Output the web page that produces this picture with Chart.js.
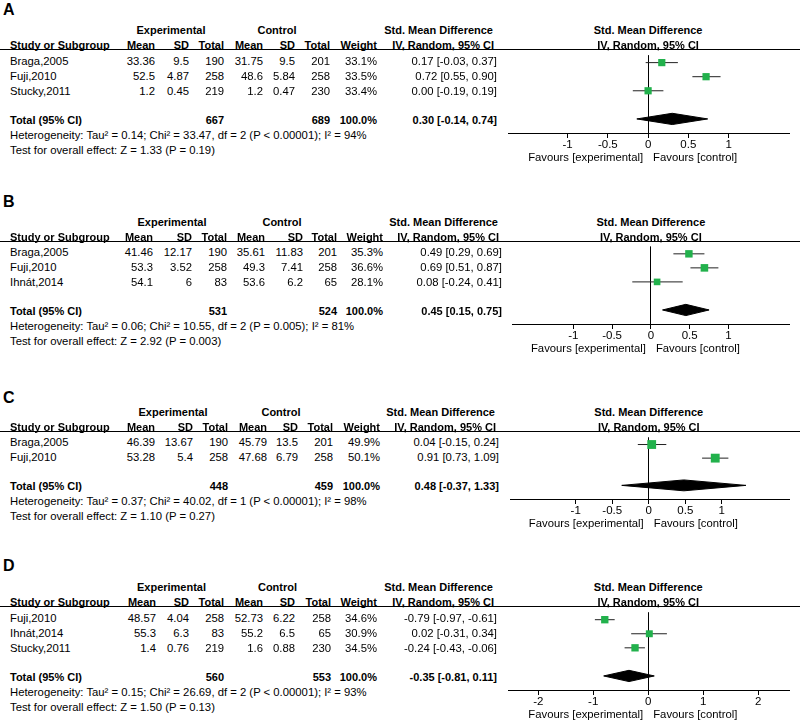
<!DOCTYPE html>
<html><head><meta charset="utf-8">
<script src="https://cdn.jsdelivr.net/npm/chart.js@4/dist/chart.umd.min.js"></script>
<style>
body{margin:0;background:#fff;}
#page{position:relative;width:800px;height:726px;overflow:hidden;font-family:"Liberation Sans",Arial,sans-serif;color:#000;}
.t{position:absolute;white-space:nowrap;font-size:11.3px;line-height:14px;height:14px;}
.b{font-weight:bold;font-size:11px;}
.L{font-weight:bold;font-size:16px;line-height:18px;height:18px;}
.hl{position:absolute;left:0;width:800px;height:0;border-top:1px solid #000;}
canvas{position:absolute;}
</style></head><body><div id="page"></div>
<script>
// ---------------- DATA ----------------
const panelLabels = ['A','B','C','D'];
const studies = [
  ['Braga,2005','Fuji,2010','Stucky,2011'],
  ['Braga,2005','Fuji,2010','Ihnát,2014'],
  ['Braga,2005','Fuji,2010'],
  ['Fuji,2010','Ihnát,2014','Stucky,2011']
];
const expMean = [[33.36,52.5,1.2],[41.46,53.3,54.1],[46.39,53.28],[48.57,55.3,1.4]];
const expSD   = [[9.5,4.87,0.45],[12.17,3.52,6],[13.67,5.4],[4.04,6.3,0.76]];
const expN    = [[190,258,219],[190,258,83],[190,258],[258,83,219]];
const ctlMean = [[31.75,48.6,1.2],[35.61,49.3,53.6],[45.79,47.68],[52.73,55.2,1.6]];
const ctlSD   = [[9.5,5.84,0.47],[11.83,7.41,6.2],[13.5,6.79],[6.22,6.5,0.88]];
const ctlN    = [[201,258,230],[201,258,65],[201,258],[258,65,230]];
const weight  = [[33.1,33.5,33.4],[35.3,36.6,28.1],[49.9,50.1],[34.6,30.9,34.5]];
const smd     = [[0.17,0.72,0.00],[0.49,0.69,0.08],[0.04,0.91],[-0.79,0.02,-0.24]];
const ciLow   = [[-0.03,0.55,-0.19],[0.29,0.51,-0.24],[-0.15,0.73],[-0.97,-0.31,-0.43]];
const ciHigh  = [[0.37,0.90,0.19],[0.69,0.87,0.41],[0.24,1.09],[-0.61,0.34,-0.06]];
const totalExpN   = [667,531,448,560];
const totalCtlN   = [689,524,459,553];
const totalWeight = [100.0,100.0,100.0,100.0];
const pooled     = [0.30,0.45,0.48,-0.35];
const pooledLow  = [-0.14,0.15,-0.37,-0.81];
const pooledHigh = [0.74,0.75,1.33,0.11];
const tau2  = [0.14,0.06,0.37,0.15];
const chi2  = [33.47,10.55,40.02,26.69];
const hetDf = [2,2,1,2];
const hetP  = ['< 0.00001','= 0.005','< 0.00001','< 0.00001'];
const i2    = [94,81,98,93];
const zValue = [1.33,2.92,1.10,1.50];
const zP     = ['0.19','0.003','0.27','0.13'];
const tickValues = [[-1,-0.5,0,0.5,1],[-1,-0.5,0,0.5,1],[-1,-0.5,0,0.5,1],[-2,-1,0,1,2]];
const axisMin = [-1.74,-1.79,-1.9,-2.55];
const axisMax = [1.75,1.78,1.92,2.56];

// ---------------- LAYOUT ----------------
const headerY = [49.5, 241, 431, 606.7];
const letterY = [10, 202, 397.5, 566];
const colRight = [
  [155,189,224,263,295,330,377,497],
  [153,192,227,265,303,337,383,502],
  [155,193,228,267,298,333,380,499],
  [156,189,224,263,295,331,377,497]
];
const expCenter = [171,172,173,171.5];
const ctlCenter = [277,282,281,277.5];
const plotLeft = [508,512,510,508];
const plotRight = 789;
const canvasLeft = 500, canvasW = 300;
const GREEN = '#22b14c';
const FONT = '"Liberation Sans", Arial, sans-serif';

const page = document.getElementById('page');
function txt(s, x, y, align, cls) {
  const d = document.createElement('div');
  d.className = 't' + (cls ? ' ' + cls : '');
  d.textContent = s;
  const h = cls === 'L' ? 9 : 7;
  d.style.top = (y - h) + 'px';
  d.style.left = x + 'px';
  if (align === 'r') d.style.transform = 'translateX(-100%)';
  else if (align === 'c') d.style.transform = 'translateX(-50%)';
  page.appendChild(d);
}
const f2 = v => v.toFixed(2);
const ciStr = (e, l, h) => `${f2(e)} [${f2(l)}, ${f2(h)}]`;

panelLabels.forEach((lab, p) => {
  const n = studies[p].length;
  const top = headerY[p];
  const plotH = 8 + 15 * (n + 2);
  const cv = document.createElement('canvas');
  cv.width = canvasW; cv.height = plotH + 30;
  cv.style.left = canvasLeft + 'px';
  cv.style.top = top + 'px';
  page.appendChild(cv);

  const datasets = [];
  datasets.push({
    type: 'scatter', order: 0, clip: false,
    data: smd[p].map((v, i) => ({x: v, y: i})),
    pointStyle: 'rect',
    pointRadius: weight[p].map(w => 1.25 * Math.sqrt(w) / Math.SQRT2),
    backgroundColor: GREEN, borderColor: GREEN, borderWidth: 0
  });
  studies[p].forEach((s, i) => {
    datasets.push({
      type: 'line', order: 1, clip: false,
      data: [{x: ciLow[p][i], y: i}, {x: ciHigh[p][i], y: i}],
      borderColor: '#222', borderWidth: 1, pointRadius: 0, fill: false
    });
  });
  const ty = n + 1, dh = 0.4;
  datasets.push({
    type: 'line', order: 2, clip: false,
    data: [{x: pooledLow[p], y: ty}, {x: pooled[p], y: ty - dh}, {x: pooledHigh[p], y: ty},
           {x: pooled[p], y: ty + dh}, {x: pooledLow[p], y: ty}],
    borderColor: '#000', backgroundColor: '#000', borderWidth: 1, pointRadius: 0,
    fill: 'shape', tension: 0
  });

  const chart = new Chart(cv, {
    type: 'scatter',
    data: {datasets},
    options: {
      responsive: false, animation: false, events: [],
      layout: {padding: {left: plotLeft[p] - canvasLeft, right: canvasLeft + canvasW - plotRight, top: 0, bottom: 0}},
      plugins: {legend: {display: false}, tooltip: {enabled: false}},
      scales: {
        x: {
          type: 'linear', min: axisMin[p], max: axisMax[p],
          afterBuildTicks: s => { s.ticks = tickValues[p].map(v => ({value: v})); },
          afterFit: s => { s.height = 30; },
          grid: {
            color: c => (c.tick && c.tick.value === 0) ? '#000' : 'rgba(0,0,0,0)',
            tickColor: '#000', tickLength: 5, lineWidth: 1, drawTicks: true
          },
          border: {display: true, color: '#000', width: 1},
          ticks: {color: '#000', padding: 0, font: {family: FONT, size: 11.5}, callback: v => String(v)}
        },
        y: {type: 'linear', display: false, reverse: true, min: -8 / 15, max: n + 2}
      }
    }
  });
  const zeroPx = canvasLeft + chart.scales.x.getPixelForValue(0);
  const axisY = top + plotH;

  // header rule
  const hl = document.createElement('div');
  hl.className = 'hl'; hl.style.top = (top - 0.5) + 'px';
  page.appendChild(hl);

  const cr = colRight[p];
  txt(lab, 3, letterY[p], 'l', 'L');
  const h1 = top - 19.5, h2 = top - 4.5;
  txt('Experimental', expCenter[p], h1, 'c', 'b');
  txt('Control', ctlCenter[p], h1, 'c', 'b');
  txt('Std. Mean Difference', cr[7] - 4, h1, 'r', 'b');
  txt('Std. Mean Difference', zeroPx, h1, 'c', 'b');
  txt('Study or Subgroup', 10, h2, 'l', 'b');
  ['Mean', 'SD', 'Total', 'Mean', 'SD', 'Total', 'Weight'].forEach((h, k) => txt(h, cr[k], h2, 'r', 'b'));
  txt('IV, Random, 95% CI', cr[7] - 3, h2, 'r', 'b');
  txt('IV, Random, 95% CI', zeroPx, h2, 'c', 'b');

  studies[p].forEach((s, i) => {
    const y = top + 11 + 15 * i;
    txt(s, 10, y, 'l');
    const vals = [expMean[p][i], expSD[p][i], expN[p][i], ctlMean[p][i], ctlSD[p][i], ctlN[p][i]];
    vals.forEach((v, k) => txt(String(v), cr[k], y, 'r'));
    txt(weight[p][i].toFixed(1) + '%', cr[6], y, 'r');
    txt(ciStr(smd[p][i], ciLow[p][i], ciHigh[p][i]), cr[7], y, 'r');
  });
  const yt = top + 11 + 15 * (n + 1) - 1;
  txt('Total (95% CI)', 10, yt, 'l', 'b');
  txt(String(totalExpN[p]), cr[2], yt, 'r', 'b');
  txt(String(totalCtlN[p]), cr[5], yt, 'r', 'b');
  txt(totalWeight[p].toFixed(1) + '%', cr[6], yt, 'r', 'b');
  txt(ciStr(pooled[p], pooledLow[p], pooledHigh[p]), cr[7], yt, 'r', 'b');
  txt(`Heterogeneity: Tau² = ${f2(tau2[p])}; Chi² = ${f2(chi2[p])}, df = ${hetDf[p]} (P ${hetP[p]}); I² = ${i2[p]}%`, 10, yt + 15, 'l');
  txt(`Test for overall effect: Z = ${f2(zValue[p])} (P = ${zP[p]})`, 10, yt + 30, 'l');

  txt('Favours [experimental]', zeroPx - 5, axisY + 24, 'r');
  txt('Favours [control]', zeroPx + 5, axisY + 24, 'l');
});
</script></body></html>
